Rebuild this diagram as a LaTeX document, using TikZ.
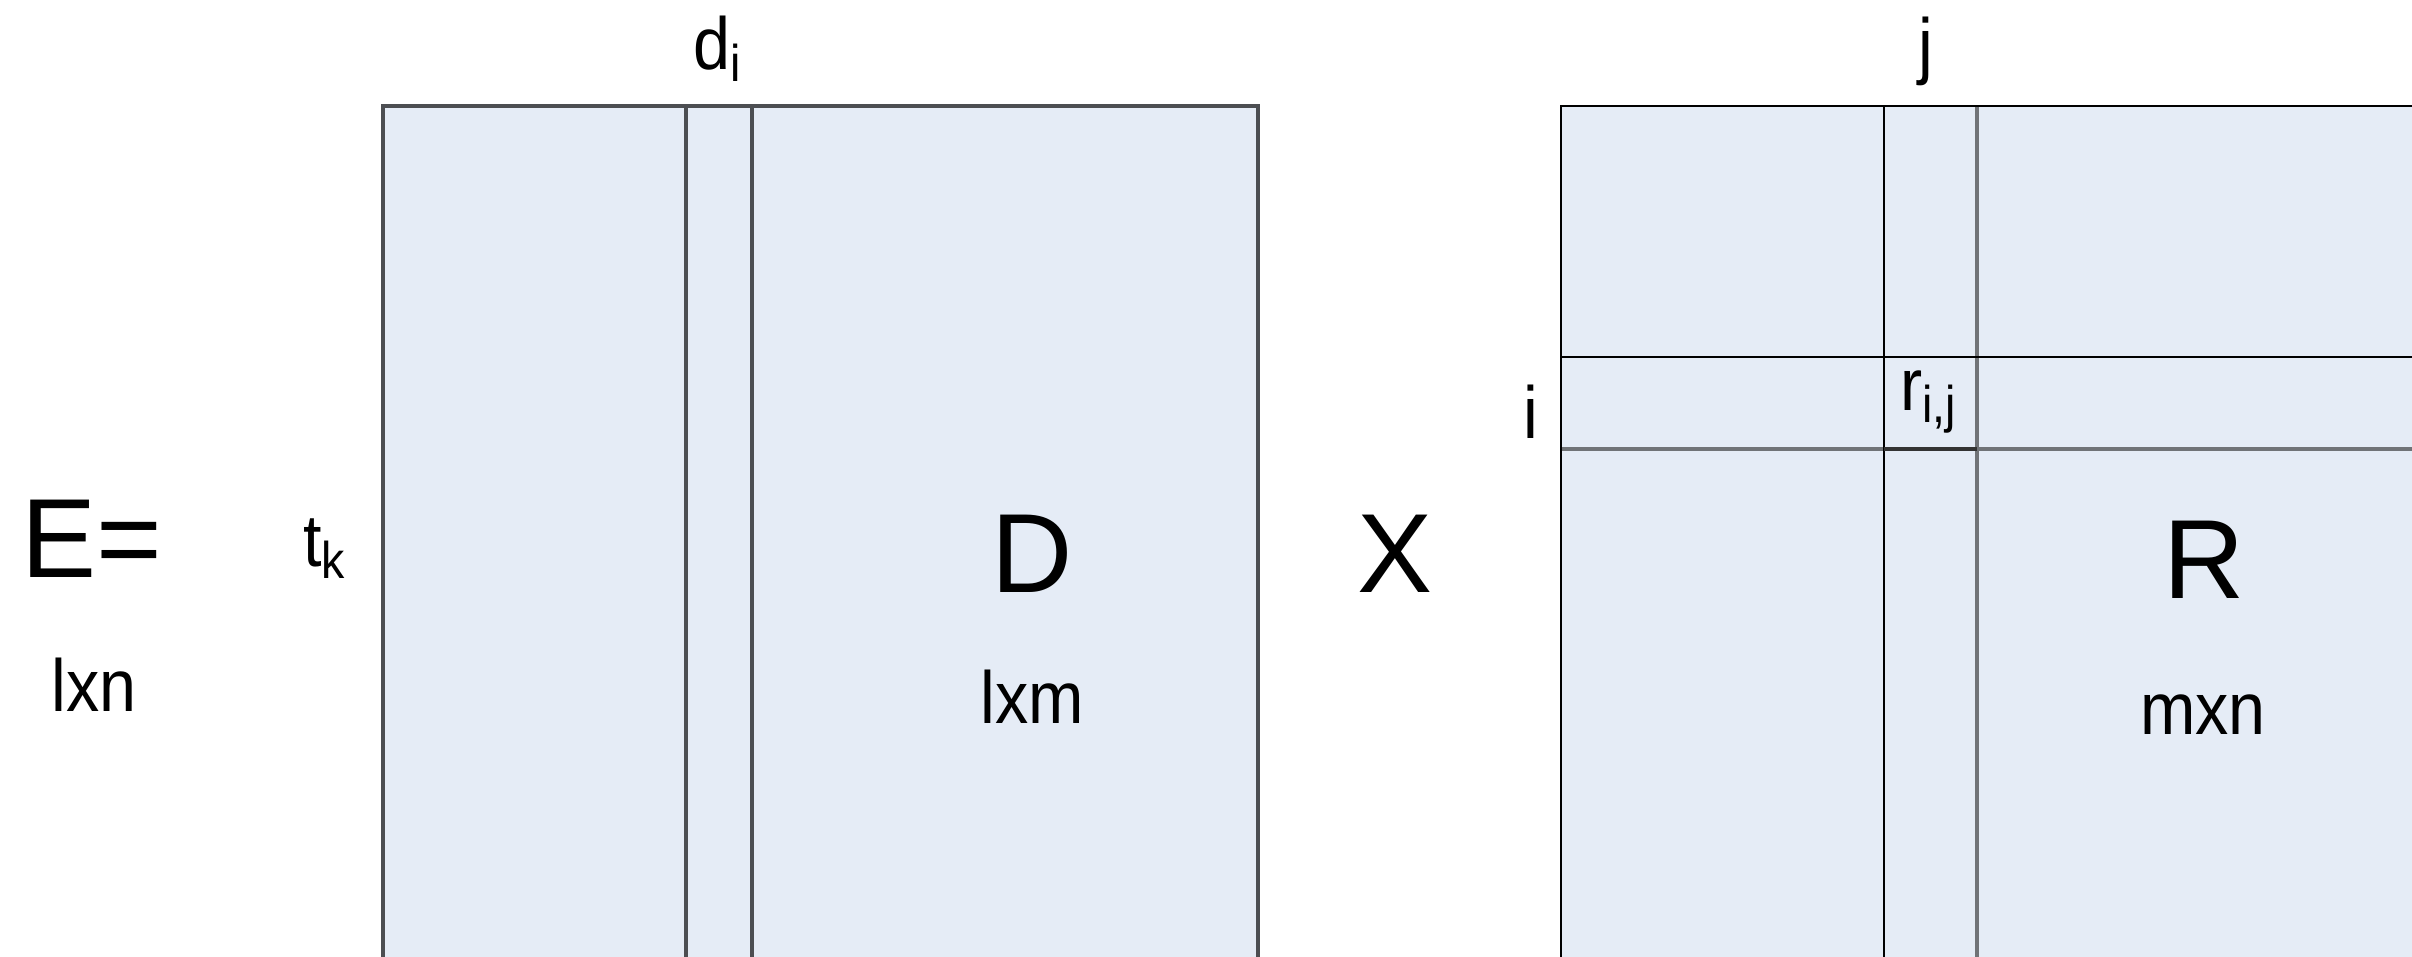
\documentclass[tikz,border=0pt]{standalone}
\usepackage{fontspec}
\setmainfont{Liberation Sans}
\newfontfamily\narrowsans[FakeStretch=0.9]{Liberation Sans}
\definecolor{cellfill}{HTML}{E5ECF6}
\definecolor{edgedark}{HTML}{4C4E52}
\definecolor{edgegray}{HTML}{707377}
\begin{document}
\begin{tikzpicture}[x=0.01cm,y=-0.01cm,
  matbox/.style={fill=cellfill,draw=edgedark,line width=1.05pt},
  darkline/.style={draw=edgedark,line width=1.05pt},
  thinline/.style={draw=black,line width=0.6pt},
  grayline/.style={draw=edgegray,line width=1.35pt},
  biglabel/.style={anchor=base,inner sep=0pt,font=\fontsize{32}{36}\selectfont},
  label/.style={anchor=base,inner sep=0pt,font=\narrowsans\fontsize{21}{25}\selectfont}]
\clip (0,0) rectangle (2412,956);

% matrix D (l x m) with column d_i
\draw[matbox] (383,1100) -- (383,106) -- (1258,106) -- (1258,1100);
\draw[darkline] (686,106) -- (686,1100);
\draw[darkline] (752,106) -- (752,1100);

% matrix R (m x n) with row i and column j
\fill[cellfill] (1561,106) rectangle (2500,1100);
\draw[grayline] (1561,449) -- (2500,449);
\draw[grayline] (1977,106) -- (1977,1100);
\draw[thinline] (1561,357) -- (2500,357);
\draw[thinline] (1884,106) -- (1884,1100);
\draw[draw=black!80,line width=0.9pt] (1884,449) -- (1977,449);
\draw[draw=black,line width=0.8pt] (1561,1100) -- (1561,106) -- (2500,106);

% labels
\node[biglabel] (eq) at (92,577) {E=};
\node[label] (esize) at (94,711) {lxn};
\node[label] (tk) at (325,566) {t\textsubscript{k}};
\node[label] (di) at (718,69) {d\textsubscript{i}};
\node[biglabel] (dname) at (1032,592) {D};
\node[label] (dsize) at (1032,723) {lxm};
\node[biglabel] (times) at (1395,592) {X};
\node[label] (jcol) at (1926,70) {j};
\node[label] (irow) at (1531,438) {i};
\node[label] (rij) at (1929,410) {r\textsubscript{i,j}};
\node[biglabel] (rname) at (2204,598) {R};
\node[label] (rsize) at (2203,734) {mxn};
\end{tikzpicture}
\end{document}
